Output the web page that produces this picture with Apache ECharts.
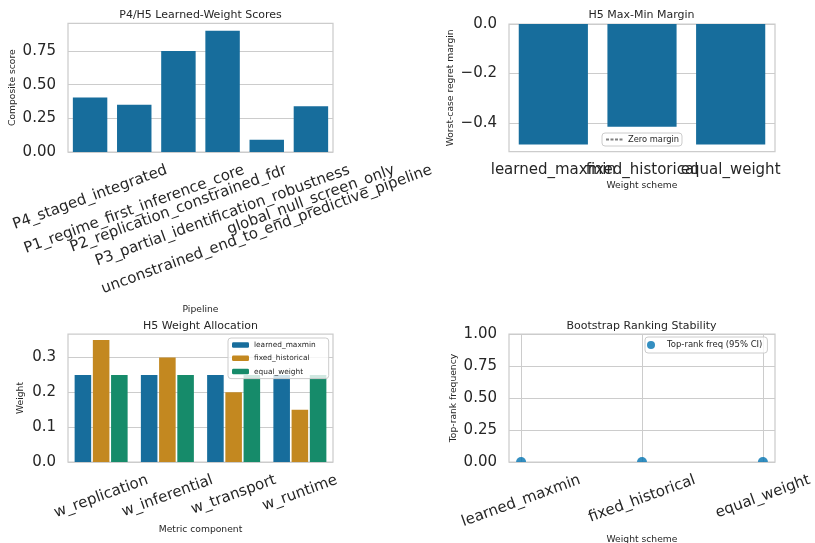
<!DOCTYPE html>
<html>
<head>
<meta charset="utf-8">
<script src="https://cdn.jsdelivr.net/npm/echarts@6/dist/echarts.min.js"></script>
<style>
  html, body { margin: 0; padding: 0; background: #ffffff; }
  #chart { width: 815px; height: 543px; }
</style>
</head>
<body>
<div id="chart"></div>
<script>
// ---- data ----
const pipelines = [
  'P4_staged_integrated',
  'P1_regime_first_inference_core',
  'P2_replication_constrained_fdr',
  'P3_partial_identification_robustness',
  'unconstrained_end_to_end_predictive_pipeline',
  'global_null_screen_only'
];
const compositeScores = [0.405, 0.35, 0.75, 0.90, 0.09, 0.34];

const schemes = ['learned_maxmin', 'fixed_historical', 'equal_weight'];
const worstCaseMargin = [-0.488, -0.416, -0.488];

const components = ['w_replication', 'w_inferential', 'w_transport', 'w_runtime'];
const weightsLearned = [0.25, 0.25, 0.25, 0.25];
const weightsFixed = [0.35, 0.30, 0.20, 0.15];
const weightsEqual = [0.25, 0.25, 0.25, 0.25];

const topRankFreq = [0.0, 0.0, 0.0];

const scoreTicks = [0, 0.25, 0.5, 0.75];
const marginTicks = [-0.4, -0.2, 0];
const weightTicks = [0, 0.1, 0.2, 0.3];
const freqTicks = [0, 0.25, 0.5, 0.75, 1];
const schemeTicks = [0, 1, 2];

// ---- style ----
const FONT = 'DejaVu Sans';
const TEXT = '#262626';
const GRID_LINE = '#cccccc';
const TICK_FONT = 15;
const ROT = 20;
const BLUE_BAR = '#176d9c';
const ORANGE_BAR = '#c38820';
const GREEN_BAR = '#168b6a';
const BLUE_PT = '#0173b2';
const CLEAR = 'rgba(0,0,0,0)';

const measureCtx = document.createElement('canvas').getContext('2d');
measureCtx.font = TICK_FONT + 'px "' + FONT + '"';
const textWidth = s => measureCtx.measureText(s).width;

// Slanted tick labels centred on their tick: the rotated box is pushed down
// (via padding inside the rotated frame) so that its top sits `pad` below the axis.
function slantedLabels(names, pad, keyOf) {
  const th = ROT * Math.PI / 180;
  const h = TICK_FONT * 1.16;
  const margin = 2;
  const rich = {};
  names.forEach((n, i) => {
    const w = textWidth(n);
    const d = pad + (w * Math.sin(th) + h * Math.cos(th)) / 2;
    const P = 2 * Math.cos(th) * (d - margin);
    const R = P * Math.tan(th);
    rich['t' + i] = {
      fontFamily: FONT, fontSize: TICK_FONT, color: TEXT,
      padding: [P, R, 0, 0]
    };
  });
  return {
    show: true, interval: 0, rotate: ROT, margin: margin,
    align: 'center', verticalAlign: 'middle',
    formatter: (v, i) => {
      const k = keyOf(v, i);
      return '{t' + k + '|' + names[k] + '}';
    },
    rich: rich
  };
}

const nameStyle = { fontFamily: FONT, fontSize: 9.2, color: TEXT };
const valueLabel = (digits) => ({
  show: true, margin: 12, fontFamily: FONT, fontSize: TICK_FONT, color: TEXT,
  formatter: v => Number(v).toFixed(digits).replace('-', '\u2212')
});
const splitLine = { show: true, lineStyle: { color: GRID_LINE, width: 1 } };

function gridBox(left, top, width, height) {
  return {
    left, top, width, height, show: true,
    borderColor: GRID_LINE, borderWidth: 1.25,
    backgroundColor: '#ffffff', containLabel: false, outerBoundsMode: 'none'
  };
}

const legendBase = {
  orient: 'vertical', borderColor: GRID_LINE, borderWidth: 1, borderRadius: 3,
  backgroundColor: 'rgba(255,255,255,0.8)',
  textStyle: { fontFamily: FONT, fontSize: 8.3, color: TEXT, lineHeight: 9 },
  selectedMode: false
};

const chart = echarts.init(document.getElementById('chart'), null, { renderer: 'canvas' });

const option = {
  animation: false,
  backgroundColor: '#ffffff',
  title: [
    { text: 'P4/H5 Learned-Weight Scores', left: 200.5, top: 10 },
    { text: 'H5 Max-Min Margin', left: 641.5, top: 10 },
    { text: 'H5 Weight Allocation', left: 200.5, top: 320.5 },
    { text: 'Bootstrap Ranking Stability', left: 641.5, top: 320.5 }
  ].map(t => Object.assign(t, {
    textAlign: 'center', padding: 0,
    textStyle: { fontFamily: FONT, fontSize: 11, fontWeight: 'normal', color: TEXT }
  })),
  legend: [
    Object.assign({}, legendBase, {
      left: 602, top: 133, padding: [2, 3, 2, 3], itemWidth: 17, itemHeight: 6,
      itemStyle: { color: CLEAR, borderWidth: 0, opacity: 0 },
      data: ['Zero margin']
    }),
    Object.assign({}, legendBase, {
      left: 228, top: 338, padding: [2.5, 13, 2.5, 4], itemWidth: 17, itemHeight: 5.5,
      itemGap: 4.3,
      textStyle: Object.assign({}, legendBase.textStyle, { fontSize: 7.4 }),
      data: ['learned_maxmin', 'fixed_historical', 'equal_weight']
    }),
    Object.assign({}, legendBase, {
      left: 645, top: 337, padding: [3.5, 5, 3.5, 2], itemWidth: 22, itemHeight: 8,
      textStyle: Object.assign({}, legendBase.textStyle, { fontSize: 8.5 }),
      data: [{ name: 'Top-rank freq (95% CI)', icon: 'circle' }]
    })
  ],
  grid: [
    gridBox(68, 23.3, 265, 128.7),
    gridBox(509, 24, 266, 127.7),
    gridBox(68, 334, 265, 128),
    gridBox(509, 334, 266, 128)
  ],
  xAxis: [
    {
      type: 'category', gridIndex: 0, data: pipelines,
      axisLine: { show: false }, axisTick: { show: false }, splitLine: { show: false },
      axisLabel: slantedLabels(pipelines, 9.5, (v, i) => i),
      name: 'Pipeline', nameLocation: 'middle', nameGap: 153, nameTextStyle: nameStyle
    },
    {
      type: 'category', gridIndex: 1, data: schemes,
      axisLine: { show: false }, axisTick: { show: false }, splitLine: { show: false },
      axisLabel: { interval: 0, margin: 11, fontFamily: FONT, fontSize: TICK_FONT, color: TEXT },
      name: 'Weight scheme', nameLocation: 'middle', nameGap: 29.5, nameTextStyle: nameStyle
    },
    {
      type: 'category', gridIndex: 2, data: components,
      axisLine: { show: false }, axisTick: { show: false }, splitLine: { show: false },
      axisLabel: slantedLabels(components, 9.5, (v, i) => i),
      name: 'Metric component', nameLocation: 'middle', nameGap: 63.5, nameTextStyle: nameStyle
    },
    {
      type: 'value', gridIndex: 3, min: -0.1, max: 2.1,
      axisLine: { show: false },
      axisTick: { show: false, customValues: schemeTicks },
      splitLine: splitLine,
      axisLabel: Object.assign(slantedLabels(schemes, 9.5, v => Math.round(v)), { customValues: schemeTicks }),
      name: 'Weight scheme', nameLocation: 'middle', nameGap: 72.7, nameTextStyle: nameStyle
    }
  ],
  yAxis: [
    {
      type: 'value', gridIndex: 0, min: 0, max: 0.955,
      axisLine: { show: false },
      axisTick: { show: false, customValues: scoreTicks },
      axisLabel: Object.assign(valueLabel(2), { customValues: scoreTicks }),
      splitLine: splitLine,
      name: 'Composite score', nameLocation: 'middle', nameGap: 51, nameTextStyle: nameStyle
    },
    {
      type: 'value', gridIndex: 1, min: -0.517, max: 0,
      axisLine: { show: false },
      axisTick: { show: false, customValues: marginTicks },
      axisLabel: Object.assign(valueLabel(1), { customValues: marginTicks }),
      splitLine: splitLine,
      name: 'Worst-case regret margin', nameLocation: 'middle', nameGap: 54, nameTextStyle: nameStyle
    },
    {
      type: 'value', gridIndex: 2, min: 0, max: 0.3675,
      axisLine: { show: false },
      axisTick: { show: false, customValues: weightTicks },
      axisLabel: Object.assign(valueLabel(1), { customValues: weightTicks }),
      splitLine: splitLine,
      name: 'Weight', nameLocation: 'middle', nameGap: 43, nameTextStyle: nameStyle
    },
    {
      type: 'value', gridIndex: 3, min: 0, max: 1,
      axisLine: { show: false },
      axisTick: { show: false, customValues: freqTicks },
      axisLabel: Object.assign(valueLabel(2), { customValues: freqTicks }),
      splitLine: splitLine,
      name: 'Top-rank frequency', nameLocation: 'middle', nameGap: 51, nameTextStyle: nameStyle
    }
  ],
  series: [
    {
      type: 'bar', name: 'Composite score', xAxisIndex: 0, yAxisIndex: 0,
      data: compositeScores, barCategoryGap: '22%',
      itemStyle: { color: BLUE_BAR }
    },
    {
      type: 'bar', name: 'Worst-case margin', xAxisIndex: 1, yAxisIndex: 1,
      data: worstCaseMargin, barCategoryGap: '22%',
      itemStyle: { color: BLUE_BAR }
    },
    {
      // zero reference line; it lies on the upper frame edge, under the border
      type: 'line', name: 'Zero margin', xAxisIndex: 1, yAxisIndex: 1,
      data: [], symbol: 'none',
      itemStyle: { color: CLEAR, opacity: 0 },
      lineStyle: { color: '#808080', type: [3, 1.5], width: 1.2 }
    },
    {
      type: 'bar', name: 'learned_maxmin', xAxisIndex: 2, yAxisIndex: 2,
      data: weightsLearned, barCategoryGap: '20%', barGap: '10%',
      itemStyle: { color: BLUE_BAR }
    },
    {
      type: 'bar', name: 'fixed_historical', xAxisIndex: 2, yAxisIndex: 2,
      data: weightsFixed, barCategoryGap: '20%', barGap: '10%',
      itemStyle: { color: ORANGE_BAR }
    },
    {
      type: 'bar', name: 'equal_weight', xAxisIndex: 2, yAxisIndex: 2,
      data: weightsEqual, barCategoryGap: '20%', barGap: '10%',
      itemStyle: { color: GREEN_BAR }
    },
    {
      type: 'scatter', name: 'Top-rank freq (95% CI)', xAxisIndex: 3, yAxisIndex: 3,
      data: topRankFreq.map((f, i) => [i, f]),
      // the marker is cut by the lower frame edge, so only its upper half shows
      symbol: 'path://M0,10A10,10,0,0,1,20,10Z',
      symbolSize: [10, 5], symbolOffset: [0, '-50%'],
      itemStyle: { color: BLUE_PT }, z: 5
    }
  ]
};

chart.setOption(option);
</script>
</body>
</html>
